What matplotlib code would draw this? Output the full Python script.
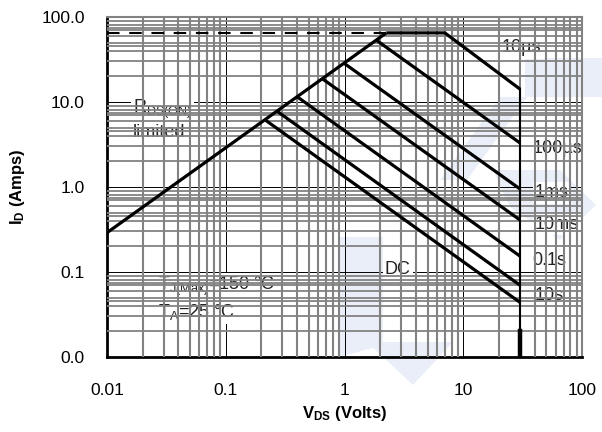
import matplotlib
matplotlib.use("Agg")
import matplotlib.pyplot as plt
from matplotlib.patches import Polygon
from matplotlib.ticker import NullLocator

plt.rcParams['font.family'] = 'Liberation Sans'
plt.rcParams['mathtext.fontset'] = 'custom'
plt.rcParams['mathtext.rm'] = 'Liberation Sans'
plt.rcParams['mathtext.bf'] = 'Liberation Sans:bold'
plt.rcParams['mathtext.it'] = 'Liberation Sans:italic'
plt.rcParams['lines.scale_dashes'] = False

# safe operating area (Volts, Amps)
rds_v = [0.01, 2.25]
rds_i = [0.29, 65.0]
pulse_v = [0.01, 2.25]
pulse_i = [65.0, 65.0]
us10_v = [2.25, 7.0, 30.0]
us10_i = [65.0, 65.0, 14.2]
us100_v = [1.85, 30.0]
us100_i = [53.5, 3.3]
ms1_v = [0.99, 30.0]
ms1_i = [28.6, 0.95]
ms10_v = [0.65, 30.0]
ms10_i = [18.8, 0.41]
s01_v = [0.40, 30.0]
s01_i = [11.5, 0.154]
s10_v = [0.27, 30.0]
s10_i = [7.8, 0.07]
dc_v = [0.214, 30.0]
dc_i = [6.17, 0.044]
vdss_v = [30.0, 30.0]
vdss_i = [14.2, 0.02]
vdss_end_i = [0.02, 0.01]

x_ticks = [0.01, 0.1, 1, 10, 100]
x_labels = ['0.01', '0.1', '1', '10', '100']
y_ticks = [0.01, 0.1, 1, 10, 100]
y_labels = ['0.0', '0.1', '1.0', '10.0', '100.0']

# minor grid steps inside a decade (the y grid is a bit denser in the picture)
x_minor = [2, 3, 4, 5, 6, 7, 8, 9]
y_minor = [2, 3, 4, 4.5, 5, 6, 7, 7.5, 8, 9]

W, H = 602, 432
fig = plt.figure(figsize=(W / 100, H / 100), dpi=100)
ax = fig.add_axes([107 / W, 1 - 357 / H, 475 / W, 340 / H])
ax.set_facecolor('none')


def px(x, y):
    return (x / W, 1 - y / H)


# faint watermark behind the chart
wm = '#e9eef8'
shapes = [
    [(525, 58), (602, 58), (602, 97), (525, 97)],
    [(500, 97), (527, 97), (467, 180), (440, 180)],
    [(493, 170), (560, 170), (596, 205), (560, 240), (510, 207)],
    [(340, 237), (383, 237), (383, 345), (340, 357)],
    [(367, 342), (453, 342), (413, 385)],
]
for s in shapes:
    fig.add_artist(Polygon([px(*p) for p in s], closed=True, facecolor=wm,
                           edgecolor='none', transform=fig.transFigure, zorder=-1))

ax.set_xscale('log')
ax.set_yscale('log')
ax.set_xlim(0.01, 100)
ax.set_ylim(0.01, 100)

# grid: thin black decades, thick grey minors on top of the text boxes
grey = '#828282'
for d in [0.01, 0.1, 1, 10]:
    if d > 0.01:
        ax.axvline(d, color='black', lw=0.7, zorder=1)
        ax.axhline(d, color='black', lw=0.7, zorder=1)
    for k in x_minor:
        ax.axvline(k * d, color=grey, lw=1.5, zorder=3)
    for k in y_minor:
        ax.axhline(k * d, color=grey, lw=1.3, zorder=3)

lw = 2.3
ax.plot(pulse_v, pulse_i, color='black', lw=1.5, dashes=(9, 7), zorder=4)
for v, i in [(rds_v, rds_i), (us10_v, us10_i), (us100_v, us100_i),
             (ms1_v, ms1_i), (ms10_v, ms10_i), (s01_v, s01_i),
             (s10_v, s10_i), (dc_v, dc_i)]:
    ax.plot(v, i, color='black', lw=lw, solid_capstyle='butt', zorder=4)
ax.plot(vdss_v, vdss_i, color='black', lw=1.5, zorder=4)
ax.plot(vdss_v, vdss_end_i, color='black', lw=3.2, zorder=4)

box = dict(facecolor='white', edgecolor='none', pad=1.5)
tk = dict(fontsize=13, color='#222222', zorder=2, bbox=box)
ax.text(21.2, 43.2, '10\u00b5s', va='center', **tk)
ax.text(38.6, 2.8, '100\u00b5s', va='center', **tk)
ax.text(40.2, 0.85, '1ms', va='center', **tk)
ax.text(40.2, 0.367, '10ms', va='center', **tk)
ax.text(37.9, 0.135, '0.1s', va='center', **tk)
ax.text(40.2, 0.0536, '10s', va='center', **tk)
ax.text(2.19, 0.106, 'DC', va='center', **tk)
ax.text(0.0166, 7.43, r'R$_{\mathrm{DS(ON)}}$', va='baseline', **tk)
ax.text(0.0166, 3.87, 'limited', va='baseline', **tk)
ax.text(0.0269, 0.0614, 'T$_{\\mathrm{J(Max)}}$=150 \u00b0C', va='baseline', **tk)
ax.text(0.0269, 0.0296, 'T$_{\\mathrm{A}}$=25 \u00b0C', va='baseline', **tk)

ax.set_xticks(x_ticks)
ax.set_xticklabels(x_labels)
ax.set_yticks(y_ticks)
ax.set_yticklabels(y_labels)
ax.xaxis.set_minor_locator(NullLocator())
ax.yaxis.set_minor_locator(NullLocator())
ax.tick_params(axis='both', length=0, labelsize=12.5)
ax.tick_params(axis='x', pad=19)
ax.tick_params(axis='y', pad=16)

ax.set_xlabel(r'$\mathbf{V_{DS}}$ (Volts)', fontsize=12, fontweight='bold', labelpad=4)
ax.set_ylabel(r'$\mathbf{I_D}$ (Amps)', fontsize=12, fontweight='bold', labelpad=10)

for side in ['left', 'bottom']:
    ax.spines[side].set_color('black')
    ax.spines[side].set_linewidth(2)
for side in ['top', 'right']:
    ax.spines[side].set_color(grey)
    ax.spines[side].set_linewidth(1.5)

fig.savefig('out.png', dpi=100)
